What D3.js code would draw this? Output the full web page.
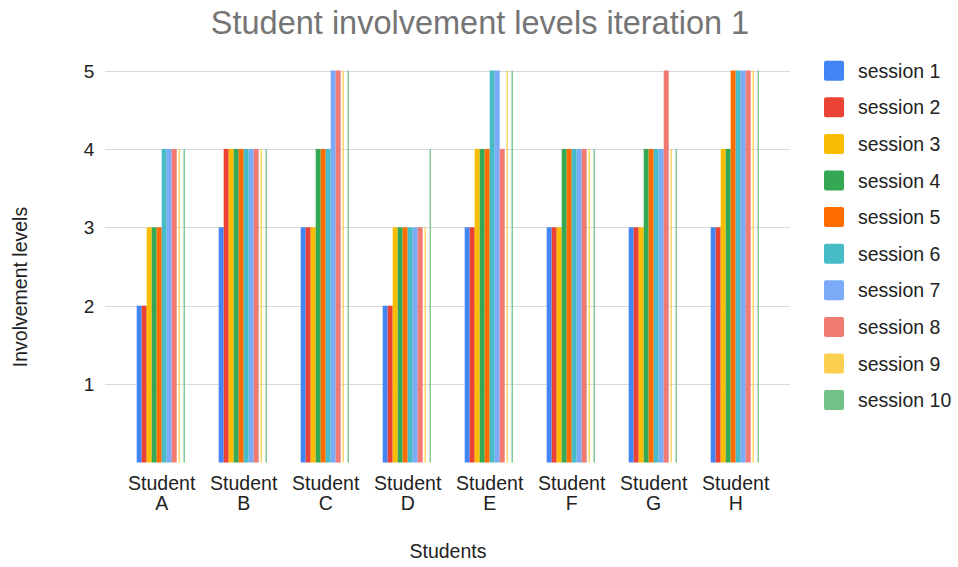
<!DOCTYPE html>
<html>
<head>
<meta charset="utf-8">
<script src="https://cdn.jsdelivr.net/npm/d3@7"></script>
<style>
  html, body { margin: 0; padding: 0; background: #fff; }
  svg { display: block; font-family: "Liberation Sans", Arial, sans-serif; }
</style>
</head>
<body>
<svg id="chart" width="958" height="567"></svg>
<script>
// Categories (students) and involvement level per session
const students = ["Student A", "Student B", "Student C", "Student D", "Student E", "Student F", "Student G", "Student H"];
const sessions = ["session 1", "session 2", "session 3", "session 4", "session 5", "session 6", "session 7", "session 8", "session 9", "session 10"];

const session1  = [2, 3, 3, 2, 3, 3, 3, 3];
const session2  = [2, 4, 3, 2, 3, 3, 3, 3];
const session3  = [3, 4, 3, 3, 4, 3, 3, 4];
const session4  = [3, 4, 4, 3, 4, 4, 4, 4];
const session5  = [3, 4, 4, 3, 4, 4, 4, 5];
const session6  = [4, 4, 4, 3, 5, 4, 4, 5];
const session7  = [4, 4, 5, 3, 5, 4, 4, 5];
const session8  = [4, 4, 5, 3, 4, 4, 5, 5];
const session9  = [4, 4, 5, 3, 5, 4, 4, 5];
const session10 = [4, 4, 5, 4, 5, 4, 4, 5];

const yTicks = [1, 2, 3, 4, 5];

const seriesValues = [session1, session2, session3, session4, session5,
                      session6, session7, session8, session9, session10];

const colors = ["#4285F4", "#EA4335", "#FBBC04", "#34A853", "#FF6D01",
                "#46BDC6", "#7BAAF7", "#F07B72", "#FCD04F", "#71C287"];
// the last two series render as hairlines inside their slot
const barWidthFactor = [1, 1, 1, 1, 1, 1, 1, 1, 0.26, 0.26];

const svg = d3.select("#chart");

const plot = { left: 120.7, right: 776.7, top: 70.5, bottom: 462.5 };
const gridLeft = 105, gridRight = 790;

const x0 = d3.scaleBand().domain(students).range([plot.left, plot.right]).paddingInner(0).paddingOuter(0);
const groupWidth = 50;
const x1 = d3.scaleBand().domain(sessions).range([0, groupWidth]).padding(0);
const y = d3.scaleLinear().domain([0, 5]).range([plot.bottom, plot.top]);

// Title
svg.append("text")
  .attr("x", 480).attr("y", 34)
  .attr("text-anchor", "middle")
  .attr("fill", "#757575")
  .attr("font-size", 32.5)
  .text("Student involvement levels iteration 1");

// Gridlines and y tick labels
const yAxis = svg.append("g");
yAxis.selectAll("line").data(yTicks).join("line")
  .attr("x1", gridLeft).attr("x2", gridRight)
  .attr("y1", d => Math.round(y(d)) + 0.5).attr("y2", d => Math.round(y(d)) + 0.5)
  .attr("stroke", "#d9d9d9").attr("stroke-width", 1.2);
yAxis.selectAll("text").data(yTicks).join("text")
  .attr("x", 89).attr("y", d => y(d) + 7)
  .attr("text-anchor", "middle")
  .attr("fill", "#222").attr("font-size", 19)
  .text(d => d);

// Bars
const groups = svg.append("g").selectAll("g").data(students).join("g")
  .attr("transform", d => `translate(${x0(d) + (x0.bandwidth() - groupWidth) / 2},0)`);

groups.selectAll("rect")
  .data((d, i) => sessions.map((s, j) => ({ s, j, v: seriesValues[j][i] })))
  .join("rect")
  .attr("x", d => x1(d.s) + x1.bandwidth() * (1 - barWidthFactor[d.j]) / 2)
  .attr("width", d => x1.bandwidth() * barWidthFactor[d.j])
  .attr("y", d => y(d.v))
  .attr("height", d => y(0) - y(d.v))
  .attr("fill", d => colors[d.j]);

// X category labels (two lines)
const xLabels = svg.append("g").selectAll("text").data(students).join("text")
  .attr("x", d => x0(d) + x0.bandwidth() / 2)
  .attr("y", 490)
  .attr("text-anchor", "middle")
  .attr("fill", "#222").attr("font-size", 19.5);
xLabels.each(function(d) {
  const parts = d.split(" ");
  const t = d3.select(this);
  t.append("tspan").attr("x", x0(d) + x0.bandwidth() / 2).attr("dy", 0).text(parts[0]);
  t.append("tspan").attr("x", x0(d) + x0.bandwidth() / 2).attr("dy", 20).text(parts[1]);
});

// Axis titles
svg.append("text")
  .attr("x", 448).attr("y", 558)
  .attr("text-anchor", "middle")
  .attr("fill", "#222").attr("font-size", 19.5)
  .text("Students");
svg.append("text")
  .attr("transform", "translate(27,287) rotate(-90)")
  .attr("text-anchor", "middle")
  .attr("fill", "#222").attr("font-size", 19.5)
  .text("Involvement levels");

// Legend
const legend = svg.append("g").selectAll("g").data(sessions).join("g")
  .attr("transform", (d, i) => `translate(824,${70.7 + i * 36.6})`);
legend.append("rect")
  .attr("x", 0).attr("y", -10).attr("width", 20).attr("height", 20)
  .attr("rx", 2)
  .attr("fill", (d, i) => colors[i]);
legend.append("text")
  .attr("x", 34).attr("y", 7)
  .attr("fill", "#222").attr("font-size", 19.5)
  .text(d => d);
</script>
</body>
</html>
